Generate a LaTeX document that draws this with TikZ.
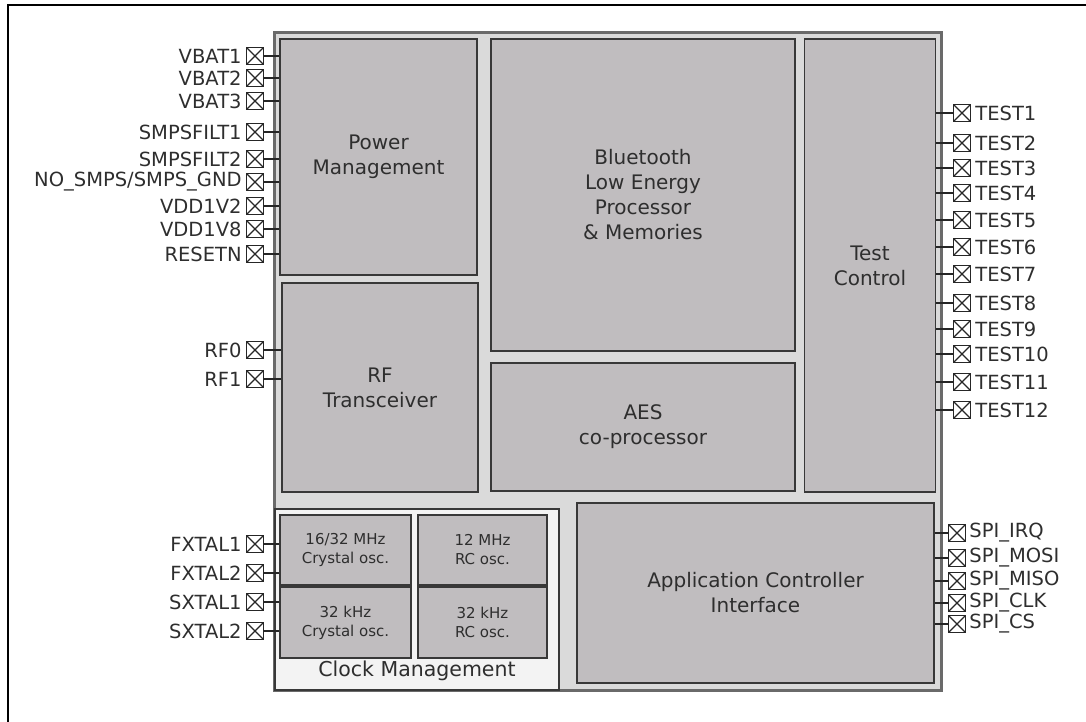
\documentclass[tikz,border=0pt]{standalone}
\usepackage{fontspec}
\setmainfont{DejaVu Sans}
\definecolor{chipfill}{HTML}{DADADA}
\definecolor{chipedge}{HTML}{6A6A6A}
\definecolor{blkfill}{HTML}{C0BDBF}
\definecolor{blkedge}{HTML}{383838}
\definecolor{clkfill}{HTML}{F3F3F3}
\definecolor{txt}{HTML}{2E2E2E}
\tikzset{
  blk/.style={rectangle, draw=blkedge, fill=blkfill, line width=1.8, inner sep=0,
    align=center, text=txt, font=\fontsize{20}{25}\selectfont},
  subblk/.style={blk, font=\fontsize{15}{19}\selectfont},
  pinbox/.style={rectangle, draw=black!85, line width=1.4, minimum width=17,
    minimum height=17, inner sep=0,
    path picture={\draw[black!85, line width=1.1]
      (path picture bounding box.south west) -- (path picture bounding box.north east)
      (path picture bounding box.north west) -- (path picture bounding box.south east);}},
  pinlbl/.style={inner sep=0, text=txt, font=\fontsize{19.5}{19.5}\selectfont},
  stub/.style={draw=black!85, line width=1.2}
}
\begin{document}
\begin{tikzpicture}[x=1pt, y=-1pt]
\useasboundingbox (0,0) rectangle (1086,722);
% frame
\draw[line width=2.2] (8,722) -- (8,5) -- (1086,5);
% chip
\node[rectangle, draw=chipedge, fill=chipfill, line width=3, minimum width=667, minimum height=657, inner sep=0] (chip) at (607.5,361.5) {};
% blocks
\node[blk, minimum width=197, minimum height=236] (pm) at (378.5,157) {Power\\Management};
\node[blk, minimum width=304, minimum height=312] (ble) at (643,195) {Bluetooth\\Low Energy\\Processor\\\& Memories};
\node[blk, minimum width=131, minimum height=453] (tc) at (870,265.5) {Test\\Control};
\node[blk, minimum width=196, minimum height=209] (rf) at (380,387.5) {RF\\Transceiver};
\node[blk, minimum width=304, minimum height=128] (aes) at (643,427) {AES\\co-processor};
\node[blk, minimum width=357, minimum height=180] (aci) at (755.5,593) {Application Controller\\Interface};
% clock management
\node[rectangle, draw=blkedge, fill=clkfill, line width=2, minimum width=284, minimum height=181, inner sep=0] (clk) at (417,599.5) {};
\node[text=txt, font=\fontsize{20.5}{20.5}\selectfont, inner sep=0] (clklbl) at (417,671) {Clock Management};
\node[subblk, minimum width=131, minimum height=70] (xo) at (345.5,550) {16/32 MHz\\Crystal osc.};
\node[subblk, minimum width=129, minimum height=70] (rco) at (482.5,550) {12 MHz\\RC osc.};
\node[subblk, minimum width=131, minimum height=71] (sxo) at (345.5,622.5) {32 kHz\\Crystal osc.};
\node[subblk, minimum width=129, minimum height=71] (src) at (482.5,622.5) {32 kHz\\RC osc.};
% left pins: power management
\foreach \n/\y/\t in {a1/56/VBAT1, a2/78/VBAT2, a3/101/VBAT3, a4/132/SMPSFILT1, a5/159/SMPSFILT2, a6/182/{NO\_SMPS/SMPS\_GND}, a7/206/VDD1V2, a8/229/VDD1V8, a9/254/RESETN}{
  \node[pinbox] (\n) at (255,\y) {};
  \node[pinlbl, anchor=east] (\n l) at ([xshift=-4]\n.west) {\t};
  \draw[stub] (\n.east) -- (\n.east -| pm.west);
}
% RF pins
\foreach \n/\y/\t in {r0/350/RF0, r1/379/RF1}{
  \node[pinbox] (\n) at (255,\y) {};
  \node[pinlbl, anchor=east] (\n l) at ([xshift=-4]\n.west) {\t};
  \draw[stub] (\n.east) -- (\n.east -| rf.west);
}
% clock pins
\foreach \n/\y/\t in {c1/544/FXTAL1, c2/573/FXTAL2, c3/602/SXTAL1, c4/631/SXTAL2}{
  \node[pinbox] (\n) at (255,\y) {};
  \node[pinlbl, anchor=east] (\n l) at ([xshift=-4]\n.west) {\t};
  \draw[stub] (\n.east) -- (\n.east -| xo.west);
}
% test pins
\foreach \n/\y/\t in {t1/113/TEST1, t2/143/TEST2, t3/168/TEST3, t4/193/TEST4, t5/220/TEST5, t6/247/TEST6, t7/274/TEST7, t8/303/TEST8, t9/329/TEST9, t10/354/TEST10, t11/382/TEST11, t12/410/TEST12}{
  \node[pinbox] (\n) at (962,\y) {};
  \node[pinlbl, anchor=west] (\n l) at ([xshift=4]\n.east) {\t};
  \draw[stub] (\n.west) -- (\n.west -| tc.east);
}
% spi pins
\foreach \n/\y/\t in {s1/533/SPI\_IRQ, s2/558/SPI\_MOSI, s3/581/SPI\_MISO, s4/603/SPI\_CLK, s5/624/SPI\_CS}{
  \node[pinbox] (\n) at (957,\y) {};
  \node[pinlbl, anchor=west] (\n l) at ([xshift=3]\n.east) {\t};
  \draw[stub] (\n.west) -- (\n.west -| aci.east);
}
\end{tikzpicture}
\end{document}
